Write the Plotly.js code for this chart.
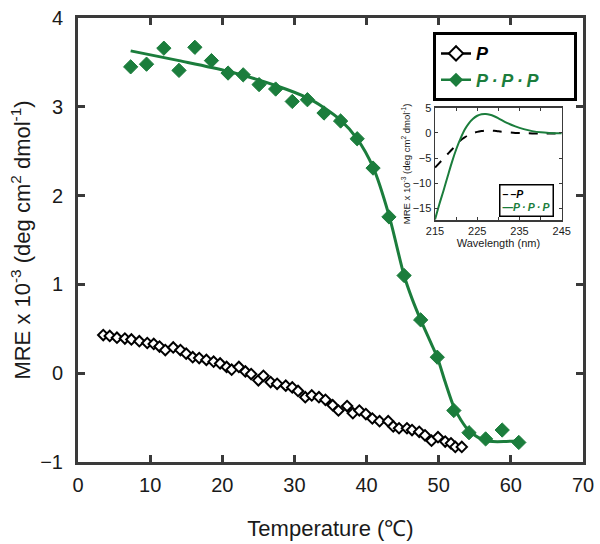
<!DOCTYPE html>
<html>
<head>
<meta charset="utf-8">
<script src="https://cdn.plot.ly/plotly-3.0.1.min.js"></script>
<style>html,body{margin:0;padding:0;background:#fff;}#chart{width:600px;height:544px;}</style>
</head>
<body>
<div id="chart"></div>
<script>
// Main panel: thermal melt, P (open diamonds)
var pTemp = [3.5,4.4,5.4,6.5,7.4,8.5,9.6,10.5,11.3,12.1,13.2,14.2,15.0,15.9,16.8,17.8,18.8,19.7,20.6,21.3,22.3,23.2,24.0,25.0,25.7,26.7,27.6,28.8,29.7,30.5,31.5,32.4,33.4,34.3,35.3,36.1,37.3,38.1,39.0,39.9,40.8,41.8,43.0,43.7,44.5,45.6,46.3,47.3,48.1,49.0,49.9,50.9,51.7,52.3,53.2];
var pMre = [0.43,0.42,0.40,0.39,0.38,0.36,0.34,0.33,0.30,0.26,0.29,0.26,0.22,0.18,0.17,0.15,0.13,0.11,0.07,0.04,0.07,0.02,-0.01,-0.08,-0.03,-0.10,-0.12,-0.14,-0.16,-0.20,-0.27,-0.25,-0.27,-0.30,-0.36,-0.42,-0.37,-0.45,-0.42,-0.46,-0.51,-0.54,-0.54,-0.60,-0.62,-0.62,-0.64,-0.66,-0.70,-0.76,-0.72,-0.77,-0.79,-0.83,-0.83];
// P·P·P (filled diamonds)
var pppTemp = [7.3,9.5,11.9,14.0,16.2,18.5,20.8,22.9,25.1,27.4,29.7,31.8,34.1,36.4,38.7,40.9,43.1,45.2,47.5,49.8,52.1,54.2,56.5,58.8,61.1];
var pppMre = [3.45,3.48,3.66,3.41,3.67,3.52,3.38,3.36,3.25,3.20,3.06,3.08,2.93,2.84,2.64,2.31,1.76,1.10,0.60,0.18,-0.42,-0.67,-0.74,-0.64,-0.78];
// P·P·P fit curve
var fitTemp = [7.3,14.0,20.8,27.4,31.8,34.1,36.4,38.7,40.9,43.1,45.2,46.3,47.5,48.7,49.8,50.9,52.1,53.1,54.2,55.4,56.5,57.5,59.0,61.0];
var fitMre = [3.63,3.52,3.40,3.24,3.10,2.99,2.85,2.64,2.32,1.78,1.10,0.84,0.60,0.38,0.18,-0.10,-0.38,-0.53,-0.65,-0.72,-0.76,-0.77,-0.77,-0.76];
// Inset: CD spectra
var wavelength = [215,216,217,218,219,220,221,222,223,224,225,226,227,228,229,230,232,234,236,238,240,242,245];
var specP = [-6.9,-6.0,-5.1,-4.2,-3.3,-2.3,-1.5,-0.9,-0.4,-0.05,0.2,0.35,0.45,0.45,0.4,0.3,0.15,0.0,-0.05,-0.1,-0.1,-0.1,-0.1];
var specPPP = [-17.2,-14.2,-11.5,-8.6,-5.8,-3.3,-1.2,0.6,1.9,2.8,3.4,3.7,3.75,3.6,3.3,2.9,2.0,1.3,0.75,0.35,0.1,0.0,-0.05];
var xTicksMain = [0,10,20,30,40,50,60,70];
var yTicksMain = [-1,0,1,2,3,4];
var xTicksInset = [215,225,235,245];
var yTicksInset = [-15,-10,-5,0,5];
var seriesNames = ['P', 'P\u2009·\u2009P\u2009·\u2009P'];

var green = '#1b7d3c';
var axc = '#3a3a3a';
var font = 'Liberation Sans, Arial, sans-serif';
var nb = '\u00a0';

var traces = [
  {x: pTemp, y: pMre, type:'scatter', mode:'markers', showlegend:false,
   marker:{symbol:'diamond', size:8, color:'#ffffff', line:{color:'#000', width:2}}},
  {x: fitTemp, y: fitMre, type:'scatter', mode:'lines', showlegend:false,
   line:{color:green, width:3, shape:'spline', smoothing:0.8}},
  {x: pppTemp, y: pppMre, type:'scatter', mode:'markers', showlegend:false,
   marker:{symbol:'diamond', size:11, color:green, line:{color:green, width:1}}},
  // legend entries (main)
  {x:[null], y:[null], type:'scatter', mode:'lines+markers', name:'<b><i>'+seriesNames[0]+'</i></b>',
   line:{color:'#000', width:2.5}, marker:{symbol:'diamond', size:11, color:'#fff', line:{color:'#000', width:2}}},
  {x:[null], y:[null], type:'scatter', mode:'lines+markers', name:'<b><i><span style="color:'+green+'">'+seriesNames[1]+'</span></i></b>'+nb+nb+nb+nb+nb+nb,
   line:{color:green, width:2.5}, marker:{symbol:'diamond', size:11, color:green}},
  // inset
  {x: wavelength, y: specP, xaxis:'x2', yaxis:'y2', type:'scatter', mode:'lines', showlegend:false,
   line:{color:'#000', width:2, dash:'dash', shape:'spline'}},
  {x: wavelength, y: specPPP, xaxis:'x2', yaxis:'y2', type:'scatter', mode:'lines', showlegend:false,
   line:{color:green, width:2, shape:'spline'}}
];

var layout = {
  width:600, height:544,
  margin:{l:78, r:17, t:18, b:82},
  paper_bgcolor:'#fff', plot_bgcolor:'rgba(0,0,0,0)',
  font:{family:font, color:'#1a1a1a'},
  xaxis:{range:[0,70], tickvals:xTicksMain, ticks:'inside', ticklen:7, tickwidth:3, tickcolor:axc,
    showline:true, linewidth:3, linecolor:axc, mirror:'ticks', zeroline:false, showgrid:false,
    tickfont:{size:20, family:font, color:'#1a1a1a'}, ticklabelstandoff:3,
    title:{text:'Temperature (℃)', font:{size:22, family:font, color:'#1a1a1a'}, standoff:26}},
  yaxis:{range:[-1,4], tickvals:yTicksMain, ticks:'inside', ticklen:7, tickwidth:3, tickcolor:axc,
    showline:true, linewidth:3, linecolor:axc, mirror:'ticks', zeroline:false, showgrid:false,
    tickfont:{size:20, family:font, color:'#1a1a1a'}, ticklabelstandoff:8,
    title:{text:'MRE x 10<sup>-3</sup> (deg cm<sup>2</sup> dmol<sup>-1</sup>)', font:{size:22, family:font, color:'#1a1a1a'}, standoff:4}},
  xaxis2:{domain:[0.707,0.958], anchor:'y2', range:[215,245], tickvals:xTicksInset, ticks:'inside', ticklen:3, tickwidth:1, tickcolor:axc,
    minor:{dtick:5, tick0:215, ticks:'inside', ticklen:3, tickcolor:axc},
    showline:true, linewidth:1.5, linecolor:axc, mirror:'ticks', zeroline:false, showgrid:false,
    tickfont:{size:11, family:font, color:'#1a1a1a'}, ticklabelstandoff:0,
    title:{text:'Wavelength (nm)', font:{size:11, family:font, color:'#1a1a1a'}, standoff:1}},
  yaxis2:{domain:[0.545,0.798], anchor:'x2', range:[-17.3,5], tickvals:yTicksInset, ticks:'inside', ticklen:3, tickwidth:1, tickcolor:axc,
    showline:true, linewidth:1.5, linecolor:axc, mirror:'ticks', zeroline:false, showgrid:false,
    tickfont:{size:11, family:font, color:'#1a1a1a'}, ticklabelstandoff:0,
    title:{text:'MRE x 10<sup>-3</sup> (deg cm<sup>2</sup> dmol<sup>-1</sup>)', font:{size:9.5, family:font, color:'#1a1a1a'}, standoff:0}},
  legend:{x:0.703, y:0.968, xanchor:'left', yanchor:'top', bgcolor:'#fff', bordercolor:'#000', borderwidth:3,
    font:{size:18, family:font, color:'#000'}, tracegroupgap:0},
  annotations:[{
    xref:'paper', yref:'paper', x:0.9426, y:0.552, xanchor:'right', yanchor:'bottom', showarrow:false, align:'left',
    text:'<b>–\u2009–<i>'+seriesNames[0]+'</i></b><br><span style="color:'+green+'"><b>—<i>'+seriesNames[1]+'</i></b></span>',
    font:{size:10.5, family:font, color:'#000'}, bgcolor:'#fff', bordercolor:'#000', borderwidth:1.5, borderpad:2
  }]
};

Plotly.newPlot('chart', traces, layout, {displayModeBar:false, staticPlot:true});
</script>
</body>
</html>
